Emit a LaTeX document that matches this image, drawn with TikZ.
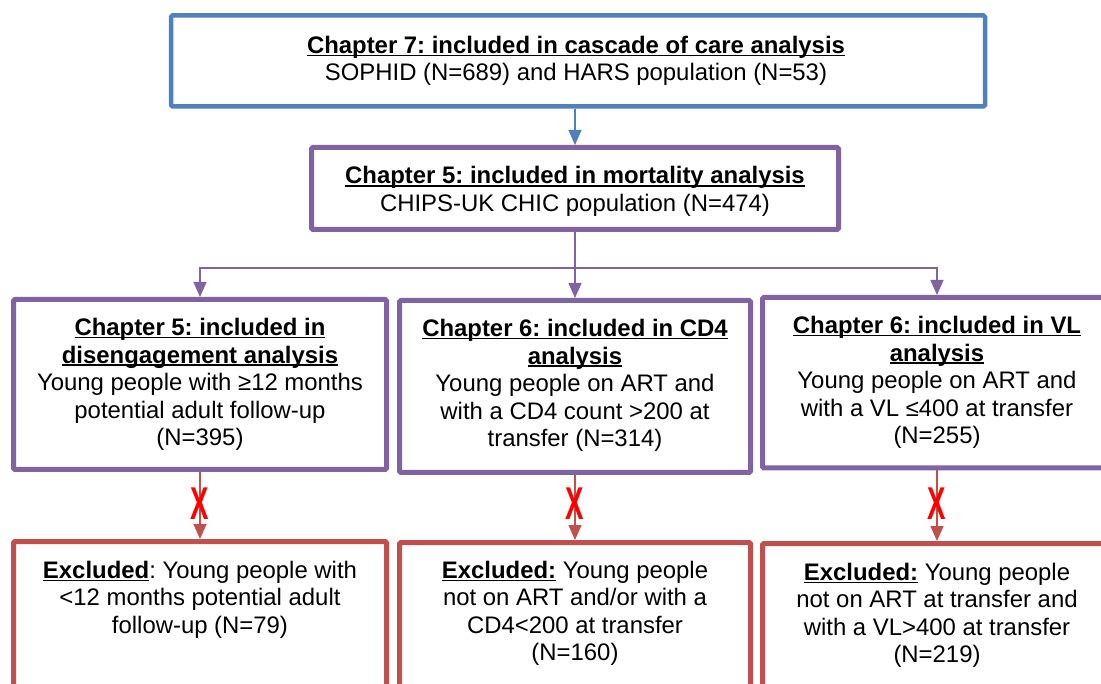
\documentclass[tikz,border=0pt]{standalone}
\usepackage{fontspec}
\setmainfont{Liberation Sans}
\usepackage{graphicx}
\usetikzlibrary{arrows.meta}

\definecolor{boxblue}{HTML}{4F81BD}
\definecolor{boxpurple}{HTML}{8064A2}
\definecolor{boxred}{HTML}{C0504D}
\definecolor{crossred}{HTML}{FF0000}

\frenchspacing
% underlined bold headings, rule close to the baseline
\newsavebox\headbox
\newcommand\heading[1]{\sbox\headbox{\textbf{#1}}%
  \rlap{\rule[-2.6pt]{\wd\headbox}{1.5pt}}\usebox\headbox}
\newcommand\crossmark{\scalebox{0.6}[1]{\textbf{X}}}

\begin{document}
\begin{tikzpicture}[x=1pt,y=-1pt,
  every node/.style={font=\fontsize{23.9}{27.4}\selectfont, align=center, inner sep=0pt},
  stagebox/.style={draw, rectangle, rounded corners=1.5pt, line width=5pt},
  toplevel/.style={stagebox, draw=boxblue, line width=4.5pt},
  included/.style={stagebox, draw=boxpurple},
  excluded/.style={stagebox, draw=boxred},
  flow/.style={line width=1.3pt, -{Triangle[length=15pt,width=13pt]}},
  cross/.style={text=crossred, font=\fontsize{46}{46}\selectfont},
]
\useasboundingbox (0,0) rectangle (1101,684);
\fill[white] (0,0) rectangle (1101,684);

% whole population
\node[toplevel, minimum width=814pt, minimum height=91pt] (cascade) at (578,61) {};
\node (cascadetext) at (576,61) {\heading{Chapter 7: included in cascade of care analysis}\\
  SOPHID (N=689) and HARS population (N=53)};

% mortality cohort
\node[included, minimum width=527pt, minimum height=82pt] (mortality) at (575,188.5) {};
\node (mortalitytext) at (575,191.5) {\heading{Chapter 5: included in mortality analysis}\\
  CHIPS-UK CHIC population (N=474)};

% analysis cohorts
\node[included, minimum width=373pt, minimum height=170pt] (diseng) at (200,384.5) {};
\node (disengtext) at (200,384.5) {\heading{Chapter 5: included in}\\
  \heading{disengagement analysis}\\
  Young people with ≥12 months\\
  potential adult follow-up\\
  (N=395)};

\node[included, minimum width=351pt, minimum height=172pt] (cd4) at (575,386.5) {};
\node (cd4text) at (575,385.5) {\heading{Chapter 6: included in CD4}\\
  \heading{analysis}\\
  Young people on ART and\\
  with a CD4 count >200 at\\
  transfer (N=314)};

\node[included, minimum width=349pt, minimum height=170.5pt] (vl) at (937,382.75) {};
\node (vltext) at (937,382.5) {\heading{Chapter 6: included in VL}\\
  \heading{analysis}\\
  Young people on ART and\\
  with a VL ≤400 at transfer\\
  (N=255)};

% exclusions
\node[excluded, minimum width=373pt, minimum height=180pt] (exdiseng) at (200,631.5) {};
\node[anchor=north] (exdisengtext) at (200,561) {\heading{Excluded}: Young people with\\
  <12 months potential adult\\
  follow-up (N=79)};

\node[excluded, minimum width=351pt, minimum height=180pt] (excd4) at (575,632.5) {};
\node[anchor=north] (excd4text) at (575,561) {\heading{Excluded:} Young people\\
  not on ART and/or with a\\
  CD4<200 at transfer\\
  (N=160)};

\node[excluded, minimum width=349pt, minimum height=180pt] (exvl) at (937,633.5) {};
\node[anchor=north] (exvltext) at (937,563) {\heading{Excluded:} Young people\\
  not on ART at transfer and\\
  with a VL>400 at transfer\\
  (N=219)};

% connectors
\draw[flow, boxblue] (cascade.south -| mortality.north) -- (mortality.north);

\coordinate (split) at (575,268);
\draw[boxpurple, line width=1.3pt] (mortality.south) -- (split);
\draw[flow, boxpurple] (split) -| (diseng.north);
\draw[flow, boxpurple] (split) -- (cd4.north);
\draw[flow, boxpurple] (split) -| (vl.north);

\draw[flow, boxred] (diseng.south) -- (exdiseng.north);
\draw[flow, boxred] (cd4.south) -- (excd4.north);
\draw[flow, boxred] (vl.south) -- (exvl.north);

% red crosses on the exclusion arrows
\node[cross] (crossdiseng) at (200,503.5) {\crossmark};
\node[cross] (crosscd4) at (575,503.5) {\crossmark};
\node[cross] (crossvl) at (937,503.5) {\crossmark};
\end{tikzpicture}
\end{document}
